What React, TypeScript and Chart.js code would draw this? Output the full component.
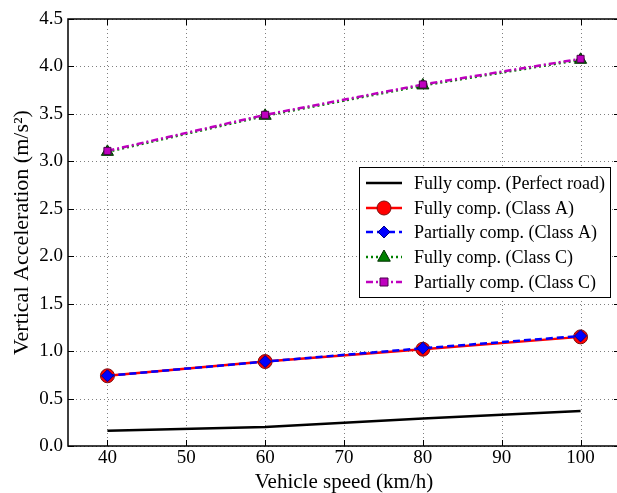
import React, { useEffect, useRef } from "react";
import { Chart, registerables } from "chart.js";

Chart.register(...registerables);

const speeds = [40, 60, 80, 100];
const perfectRoad = [0.16, 0.2, 0.29, 0.37];
const fullyClassA = [0.74, 0.89, 1.02, 1.15];
const partiallyClassA = [0.74, 0.89, 1.03, 1.16];
const fullyClassC = [3.1, 3.48, 3.8, 4.07];
const partiallyClassC = [3.11, 3.49, 3.81, 4.08];
const seriesLabels = [
  "Fully comp. (Perfect road)",
  "Fully comp. (Class A)",
  "Partially comp. (Class A)",
  "Fully comp. (Class C)",
  "Partially comp. (Class C)",
];
const xTicks = [40, 50, 60, 70, 80, 90, 100];
const yTicks = [0, 0.5, 1, 1.5, 2, 2.5, 3, 3.5, 4, 4.5];

const FONT = "'Liberation Serif', 'DejaVu Serif', serif";

type Style = {
  color: string;
  width: number;
  dash: number[];
  point: any;
  radius: number;
  fill: string;
  edge: string;
};

const styles: Style[] = [
  { color: "#000000", width: 2.5, dash: [], point: false, radius: 0, fill: "#000", edge: "#000" },
  { color: "#ff0000", width: 2.5, dash: [], point: "circle", radius: 7, fill: "#ff0000", edge: "#7a1010" },
  { color: "#0000ff", width: 2.5, dash: [7, 4], point: "rectRot", radius: 6, fill: "#0000ff", edge: "#00008b" },
  { color: "#008000", width: 2.5, dash: [2, 3], point: "triangle", radius: 7, fill: "#008000", edge: "#003000" },
  { color: "#bf00bf", width: 2.5, dash: [7, 3, 2, 3], point: "rect", radius: 5, fill: "#bf00bf", edge: "#4a004a" },
];

const allData = [perfectRoad, fullyClassA, partiallyClassA, fullyClassC, partiallyClassC];

const gridPlugin = {
  id: "dotgrid",
  beforeDatasetsDraw(chart: any) {
    const { ctx, chartArea: a, scales } = chart;
    ctx.save();
    ctx.strokeStyle = "#7f7f7f";
    ctx.lineWidth = 1;
    ctx.setLineDash([1, 3]);
    for (const v of xTicks) {
      const x = Math.round(scales.x.getPixelForValue(v)) + 0.5;
      ctx.beginPath();
      ctx.moveTo(x, a.bottom);
      ctx.lineTo(x, a.top);
      ctx.stroke();
    }
    for (const v of yTicks) {
      const y = Math.round(scales.y.getPixelForValue(v)) + 0.5;
      ctx.beginPath();
      ctx.moveTo(a.left, y);
      ctx.lineTo(a.right, y);
      ctx.stroke();
    }
    ctx.restore();
  },
};

const framePlugin = {
  id: "frame",
  afterDraw(chart: any) {
    const { ctx, chartArea: a, scales } = chart;
    ctx.save();
    ctx.strokeStyle = "#000";
    ctx.lineWidth = 1.5;
    ctx.setLineDash([]);
    ctx.strokeRect(a.left, a.top, a.right - a.left, a.bottom - a.top);
    ctx.lineWidth = 1;
    const tl = 6;
    for (const v of xTicks) {
      const x = Math.round(scales.x.getPixelForValue(v)) + 0.5;
      ctx.beginPath();
      ctx.moveTo(x, a.bottom);
      ctx.lineTo(x, a.bottom - tl);
      ctx.moveTo(x, a.top);
      ctx.lineTo(x, a.top + tl);
      ctx.stroke();
    }
    for (const v of yTicks) {
      const y = Math.round(scales.y.getPixelForValue(v)) + 0.5;
      ctx.beginPath();
      ctx.moveTo(a.left, y);
      ctx.lineTo(a.left + tl, y);
      ctx.moveTo(a.right, y);
      ctx.lineTo(a.right - tl, y);
      ctx.stroke();
    }

    // legend
    const bx = 359, by = 167, bw = 251, bh = 130;
    ctx.fillStyle = "#fff";
    ctx.fillRect(bx, by, bw, bh);
    ctx.strokeStyle = "#000";
    ctx.lineWidth = 1;
    ctx.strokeRect(bx + 0.5, by + 0.5, bw, bh);
    const rows = [183, 208, 232, 257, 282];
    ctx.font = `18px ${FONT}`;
    ctx.textBaseline = "middle";
    styles.forEach((s, i) => {
      const y = rows[i];
      ctx.strokeStyle = s.color;
      ctx.lineWidth = s.width;
      ctx.setLineDash(s.dash);
      ctx.beginPath();
      ctx.moveTo(366, y);
      ctx.lineTo(402, y);
      ctx.stroke();
      ctx.setLineDash([]);
      if (s.point) {
        ctx.fillStyle = s.fill;
        ctx.strokeStyle = s.edge;
        ctx.lineWidth = 1;
        const r = s.radius;
        const cx = 384;
        ctx.beginPath();
        if (s.point === "circle") {
          ctx.arc(cx, y, r, 0, Math.PI * 2);
        } else if (s.point === "rectRot") {
          ctx.moveTo(cx, y - r);
          ctx.lineTo(cx + r, y);
          ctx.lineTo(cx, y + r);
          ctx.lineTo(cx - r, y);
          ctx.closePath();
        } else if (s.point === "triangle") {
          ctx.moveTo(cx, y - r);
          ctx.lineTo(cx + r * 0.9, y + r * 0.6);
          ctx.lineTo(cx - r * 0.9, y + r * 0.6);
          ctx.closePath();
        } else {
          const h = r * 0.8;
          ctx.rect(cx - h, y - h, 2 * h, 2 * h);
        }
        ctx.fill();
        ctx.stroke();
      }
      ctx.fillStyle = "#000";
      ctx.fillText(seriesLabels[i], 414, y + 1);
    });
    ctx.restore();
  },
};

export default function App() {
  const ref = useRef<HTMLCanvasElement>(null);
  useEffect(() => {
    document.body.style.margin = "0";
    const datasets = allData.map((d, i) => {
      const s = styles[i];
      return {
        label: seriesLabels[i],
        data: d.map((v, j) => ({ x: speeds[j], y: v })),
        borderColor: s.color,
        borderWidth: s.width,
        borderDash: s.dash,
        backgroundColor: s.fill,
        pointStyle: s.point,
        pointRadius: s.radius,
        pointBackgroundColor: s.fill,
        pointBorderColor: s.edge,
        pointBorderWidth: 1,
        pointHoverRadius: s.radius,
        fill: false,
        tension: 0,
        order: 10 - i,
      };
    });
    const chart = new Chart(ref.current!, {
      type: "line",
      data: { datasets },
      plugins: [gridPlugin, framePlugin],
      options: {
        animation: false,
        responsive: false,
        maintainAspectRatio: false,
        layout: { autoPadding: false, padding: { top: 19, right: 1, left: 0, bottom: 0 } },
        plugins: { legend: { display: false }, tooltip: { enabled: false } },
        scales: {
          x: {
            type: "linear",
            min: 35,
            max: 105,
            afterBuildTicks: (scale: any) => {
              scale.ticks = xTicks.map((v) => ({ value: v }));
            },
            afterFit: (scale: any) => {
              scale.height = 47;
              scale.paddingLeft = 0;
              scale.paddingRight = 0;
            },
            grid: { display: false, drawTicks: false },
            border: { display: false },
            ticks: {
              color: "#000",
              font: { family: FONT, size: 19 },
              padding: 1,
              maxRotation: 0,
            },
            title: {
              display: true,
              text: "Vehicle speed (km/h)",
              color: "#000",
              font: { family: FONT, size: 21 },
              padding: { top: 0, bottom: -2 },
            },
          },
          y: {
            type: "linear",
            min: 0,
            max: 4.5,
            afterBuildTicks: (scale: any) => {
              scale.ticks = yTicks.map((v) => ({ value: v }));
            },
            afterFit: (scale: any) => {
              scale.width = 68;
              scale.paddingTop = 0;
              scale.paddingBottom = 0;
            },
            grid: { display: false, drawTicks: false },
            border: { display: false },
            ticks: {
              color: "#000",
              font: { family: FONT, size: 19 },
              padding: 5,
              callback: (v: any) => Number(v).toFixed(1),
            },
            title: {
              display: true,
              text: "Vertical Acceleration (m/s²)",
              color: "#000",
              font: { family: FONT, size: 22 },
              padding: { top: 9, bottom: 0 },
            },
          },
        },
      } as any,
    });
    return () => chart.destroy();
  }, []);
  return (
    <div style={{ position: "absolute", left: 0, top: 0, width: 617, height: 493, overflow: "hidden" }}>
      <canvas ref={ref} width={621} height={493} style={{ width: 621, height: 493, display: "block" }} />
    </div>
  );
}
